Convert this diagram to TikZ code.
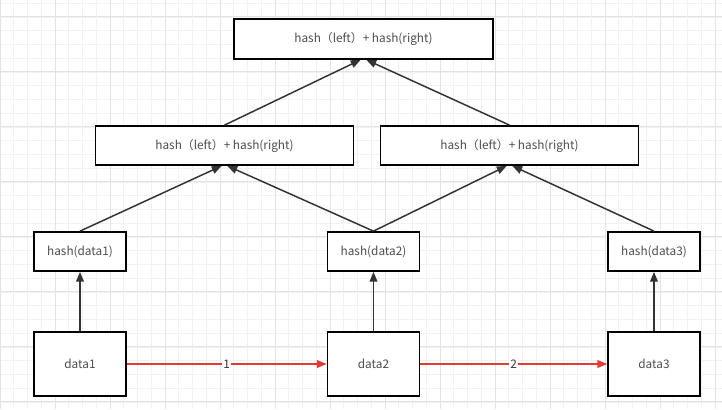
\documentclass[tikz,border=0pt]{standalone}
\usepackage{fontspec}
\setmainfont{Noto Sans CJK SC}
\usetikzlibrary{arrows.meta}
\definecolor{boxtext}{HTML}{4D4D4D}
\definecolor{linkred}{HTML}{E53935}
\definecolor{edgegray}{HTML}{333333}

\begin{document}
\begin{tikzpicture}[x=0.025cm,y=-0.025cm,
	>={Triangle[length=7pt,width=5.5pt]},
	every node/.style={font=\fontsize{8.4}{10}\selectfont, text=boxtext},
	box/.style={draw=black, line width=1.1pt, fill=white, inner sep=0pt},
	widebox/.style={box, minimum width=6.45cm, minimum height=0.98cm},
	hashbox/.style={box, minimum width=2.3cm, minimum height=0.98cm},
	databox/.style={box, minimum width=2.3cm, minimum height=1.6cm},
	up/.style={->, draw=edgegray, line width=1.05pt},
	chain/.style={->, draw=linkred, line width=1.05pt}]
\def \minor {13.75} % grid step in px
\def \major {55}
\useasboundingbox (0,0) rectangle (722,409);
\fill[white] (0,0) rectangle (722,409);

% background grid
\foreach \k in {0,...,52}
	\draw[gray!11, line width=0.5pt] (\k*\minor,0) -- (\k*\minor,409);
\foreach \k in {0,...,29}
	\draw[gray!11, line width=0.5pt] (0,3.25+\k*\minor) -- (722,3.25+\k*\minor);
\foreach \k in {0,...,13}
	\draw[gray!22, line width=0.5pt] (\k*\major,0) -- (\k*\major,409);
\foreach \k in {0,...,7}
	\draw[gray!22, line width=0.5pt] (0,16.75+\k*\major) -- (722,16.75+\k*\major);

% tree
\node[widebox, minimum width=6.475cm, minimum height=1cm] (root) at (363.5,39) {hash（left）+ hash(right)};
\node[widebox] (left) at (224.5,145.5) {hash（left）+ hash(right)};
\node[widebox] (right) at (509.5,145.5) {hash（left）+ hash(right)};

\foreach \i/\x in {1/80,2/373.5,3/654}
{
	\node[databox] (data\i) at (\x,364) {data\i};
	\node[hashbox] (hash\i) at (\x,251.5) {hash(data\i)};
	\draw[up] (data\i) -- (hash\i);
}

\draw[up] (hash1.north) -- ([xshift=-2pt]left.south);
\draw[up] (hash2.north) -- ([xshift=2pt]left.south);
\draw[up] (hash2.north) -- ([xshift=-2pt]right.south);
\draw[up] (hash3.north) -- ([xshift=2pt]right.south);
\draw[up] (left.north) -- ([xshift=-2pt]root.south);
\draw[up] (right.north) -- ([xshift=2pt]root.south);

% chain of data blocks
\draw[chain] (data1) -- node[fill=white, inner sep=1pt, text=edgegray] {1} (data2);
\draw[chain] (data2) -- node[fill=white, inner sep=1pt, text=edgegray] {2} (data3);
\end{tikzpicture}
\end{document}
